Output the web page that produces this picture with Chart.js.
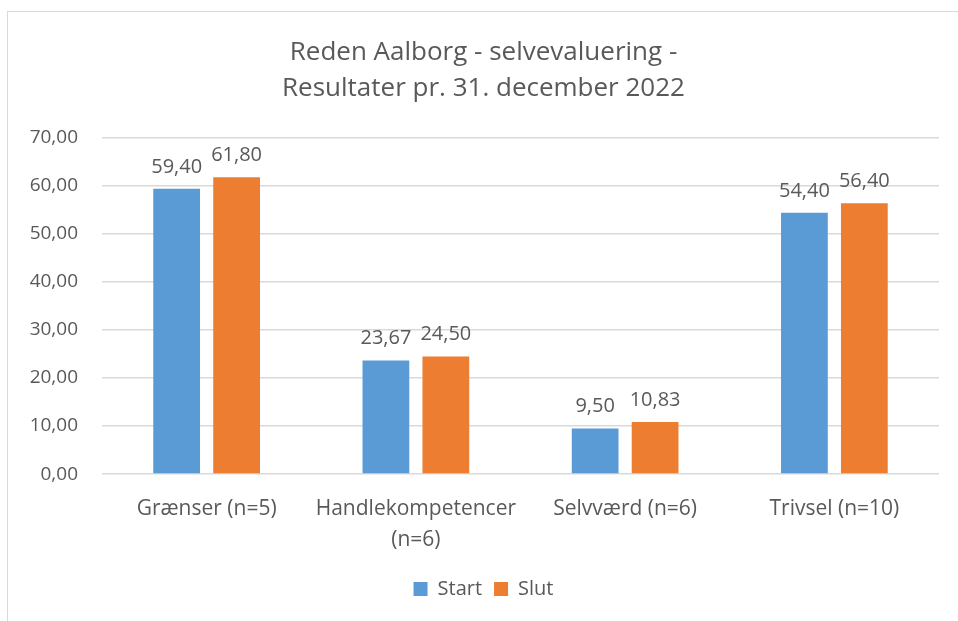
<!DOCTYPE html>
<html>
<head>
<meta charset="utf-8">
<script src="https://cdn.jsdelivr.net/npm/chart.js@4.4.0/dist/chart.umd.min.js"></script>
<style>
  html, body { margin: 0; padding: 0; background: #fff; }
  #ramme { position: absolute; left: 7px; top: 11px; width: 1000px; height: 700px; border: 1px solid #d9d9d9; }
  #boks { position: absolute; left: 0; top: 0; width: 958px; height: 621px; }
</style>
</head>
<body>
<div id="ramme"></div>
<div id="boks"><canvas id="myChart"></canvas></div>
<script>
const kategorier = ['Grænser (n=5)', ['Handlekompetencer', '(n=6)'], 'Selvværd (n=6)', 'Trivsel (n=10)'];
const startVaerdier = [59.40, 23.67, 9.50, 54.40];
const slutVaerdier = [61.80, 24.50, 10.83, 56.40];
const titelLinjer = ['Reden Aalborg - selvevaluering -', 'Resultater pr. 31. december 2022'];

const tekstFarve = '#595959';
const skrift = "'Open Sans', 'Liberation Sans', sans-serif";

function formatTal(v) {
    return v.toFixed(2).replace('.', ',');
}

// tegner værdierne over søjlerne
const vaerdiEtiketter = {
    id: 'vaerdiEtiketter',
    afterDatasetsDraw(chart) {
        const c = chart.ctx;
        c.save();
        c.font = '20px ' + skrift;
        c.fillStyle = tekstFarve;
        c.textAlign = 'center';
        c.textBaseline = 'alphabetic';
        chart.data.datasets.forEach((ds, i) => {
            chart.getDatasetMeta(i).data.forEach((bar, j) => {
                c.fillText(formatTal(ds.data[j]), bar.x, bar.y - 16);
            });
        });
        c.restore();
    }
};

const ctx = document.getElementById('myChart');
new Chart(ctx, {
    type: 'bar',
    data: {
        labels: kategorier,
        datasets: [
            { label: 'Start', data: startVaerdier, backgroundColor: '#5b9bd5' },
            { label: 'Slut', data: slutVaerdier, backgroundColor: '#ed7d31' }
        ]
    },
    options: {
        responsive: true,
        maintainAspectRatio: false,
        animation: false,
        categoryPercentage: 0.573,
        barPercentage: 0.78,
        layout: { padding: { left: 28, right: 19, top: 34, bottom: 12 } },
        scales: {
            y: {
                min: 0,
                max: 70,
                afterFit: (scale) => { scale.width = 74; },
                ticks: {
                    stepSize: 10,
                    color: tekstFarve,
                    font: { size: 19, family: skrift },
                    padding: 24,
                    callback: v => formatTal(v)
                },
                grid: { color: '#d9d9d9', lineWidth: 1.5, drawTicks: false },
                border: { display: false }
            },
            x: {
                ticks: {
                    color: tekstFarve,
                    font: { size: 21, family: skrift, lineHeight: 1.45 },
                    padding: 12,
                    maxRotation: 0
                },
                grid: { display: false },
                border: { display: false }
            }
        },
        plugins: {
            title: {
                display: true,
                text: titelLinjer,
                color: tekstFarve,
                font: { size: 26, family: skrift, weight: 'normal', lineHeight: 1.4 },
                padding: { top: 0, bottom: 31 }
            },
            legend: {
                position: 'bottom',
                labels: {
                    color: tekstFarve,
                    font: { size: 20, family: skrift },
                    boxWidth: 14,
                    boxHeight: 14,
                    padding: 12
                }
            },
            tooltip: { enabled: false }
        }
    },
    plugins: [vaerdiEtiketter]
});
</script>
</body>
</html>
